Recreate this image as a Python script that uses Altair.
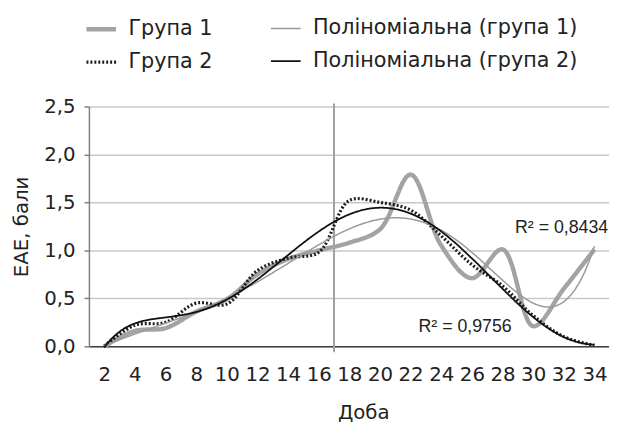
import altair as alt
import pandas as pd

# ---- data ----
days = [2, 4, 6, 8, 10, 12, 14, 16, 18, 20, 22, 24, 26, 28, 30, 32, 34]
group1 = [0.00, 0.16, 0.19, 0.36, 0.49, 0.75, 0.91, 1.00, 1.08, 1.22, 1.79, 1.05, 0.71, 1.01, 0.21, 0.60, 1.01]
group2 = [0.00, 0.22, 0.25, 0.45, 0.44, 0.79, 0.92, 0.98, 1.52, 1.50, 1.42, 1.15, 0.85, 0.63, 0.32, 0.10, 0.01]
group_names = ["Група 1", "Група 2"]
trend_names = ["Поліноміальна (група 1)", "Поліноміальна (група 2)"]
series_order = ["Група 1", "Група 2", "Поліноміальна (група 1)", "Поліноміальна (група 2)"]
series_colors = ["#a3a3a3", "#1e1e1e", "#9a9a9a", "#111111"]
series_widths = [4.5, 3.2, 1.5, 1.8]
series_dashes = [[1, 0], [2, 2], [1, 0], [1, 0]]
r2_labels = ["R² = 0,8434", "R² = 0,9756"]
r2_day = [34.9, 28.6]
r2_value = [1.235, 0.205]
y_ticks = [0, 0.5, 1.0, 1.5, 2.0, 2.5]
x_ticks = days
marker_day = [17]

FONT = "DejaVu Sans"

df = pd.DataFrame({
    "day": days * 2,
    "value": group1 + group2,
    "grp": [group_names[0]] * len(days) + [group_names[1]] * len(days),
})
ann = pd.DataFrame({"label": r2_labels, "day": r2_day, "value": r2_value})
marker = pd.DataFrame({"day": marker_day})

xscale = alt.Scale(domain=[1, 34.95], nice=False, zero=False)
yscale = alt.Scale(domain=[0, 2.5], nice=False)

x_axis = alt.Axis(
    values=x_ticks, grid=False, ticks=False, domainColor="#404040", domainWidth=1.5,
    labelPadding=19, labelFontSize=20, labelFont=FONT, labelColor="#222",
    labelOverlap=False, labelFlush=False,
    title="Доба", titleX=278, titleY=67, titleAlign="center", titleBaseline="middle",
    titleFontSize=20, titleFont=FONT, titleFontWeight="normal", titleColor="#222")
y_axis = alt.Axis(
    values=y_ticks, labelExpr="replace(format(datum.value, '.1f'), '.', ',')",
    grid=True, gridColor="#c8c8c8", gridWidth=1.5,
    domainColor="#808080", domainWidth=1.5, tickColor="#808080", tickSize=5, tickWidth=1.5,
    labelPadding=9, labelFontSize=20, labelFont=FONT, labelColor="#222",
    title="ЕАЕ, бали", titleX=-68, titleY=121.5, titleAngle=270, titleAlign="center",
    titleBaseline="middle", titleFontSize=20, titleFont=FONT, titleFontWeight="normal",
    titleColor="#222")

x_enc = alt.X("day:Q", scale=xscale, axis=x_axis)
y_enc = alt.Y("value:Q", scale=yscale, axis=y_axis)

leg = alt.Legend(title=None, orient="none", legendX=-5, legendY=-96, columns=2,
                 columnPadding=54, rowPadding=6, symbolType="stroke", symbolSize=900,
                 labelFontSize=21, labelFont=FONT, labelColor="#222", labelOffset=10,
                 labelLimit=400)

color = alt.Color("series:N", scale=alt.Scale(domain=series_order, range=series_colors),
                  legend=leg)
swidth = alt.StrokeWidth("series:N", scale=alt.Scale(type="ordinal", domain=series_order,
                         range=series_widths), legend=leg)
sdash = alt.StrokeDash("series:N", scale=alt.Scale(domain=series_order, range=series_dashes),
                       legend=leg)

rule = alt.Chart(marker).mark_rule(color="#a0a0a0", strokeWidth=2).encode(
    x=x_enc, y=alt.value(-3), y2=alt.value(249))

lines = alt.Chart(df).transform_calculate(series="datum.grp").mark_line(
    interpolate="catmull-rom", strokeCap="butt").encode(
    x=x_enc, y=y_enc, color=color, strokeWidth=swidth, strokeDash=sdash)

trend_expr = f"datum.grp == '{group_names[0]}' ? '{trend_names[0]}' : '{trend_names[1]}'"
trends = alt.Chart(df).transform_regression(
    on="day", regression="value", method="poly", order=6, groupby=["grp"]
).transform_calculate(series=trend_expr).mark_line().encode(
    x=x_enc, y=y_enc, color=color, strokeWidth=swidth, strokeDash=sdash)

labels = alt.Chart(ann).mark_text(align="right", baseline="middle", fontSize=18,
                                  font="Liberation Sans", color="#222").encode(
    x=x_enc, y=y_enc, text="label:N")

chart = alt.layer(rule, lines, trends, labels).properties(
    width=527, height=243,
    autosize=alt.AutoSizeParams(type="none"),
    padding={"left": 82, "top": 97, "right": 0, "bottom": 80},
).configure_view(strokeWidth=0)

chart.save("out.html", embed_options={"renderer": "svg", "actions": False})
